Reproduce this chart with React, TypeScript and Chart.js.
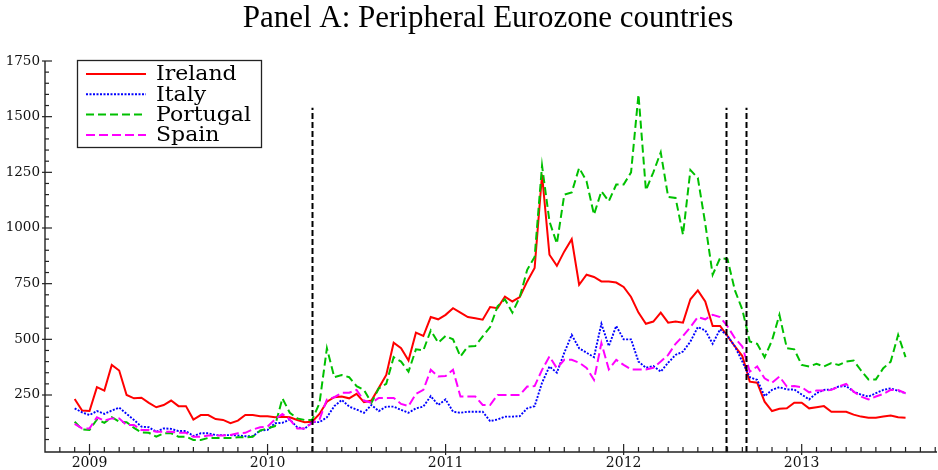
import React, { useEffect, useRef } from "react";
import { Chart, registerables } from "chart.js";

Chart.register(...registerables);

// Sampling grid: semi-monthly observations starting 1 Dec 2008
const START_YEAR = 2008 + 11 / 12;
const STEP = 1 / 24;

const IRELAND = [
  232, 180, 178, 285, 270, 385, 360, 250, 235, 238,
  215, 195, 205, 225, 200, 200, 140, 160, 160, 142,
  138, 123, 135, 160, 160, 155, 155, 150, 152, 150,
  138, 128, 130, 165, 220, 240, 243, 235, 255, 218,
  225, 282, 340, 485, 460, 405, 530, 515, 600, 590,
  610, 640, 620, 600, 595, 588, 645, 640, 692, 670,
  690, 760, 820, 1240, 880, 830, 895, 950, 745, 790,
  780, 760, 760, 755, 735, 690, 620, 570, 580, 620,
  575, 580, 575, 680, 720, 670, 560, 560, 515, 468,
  425, 310, 305, 220, 178, 188, 190, 215, 215, 190,
  195, 200, 175, 175, 175, 162, 153, 148, 148, 153,
  158, 150, 148,
];

const ITALY = [
  190, 172, 160, 178, 165, 180, 193, 165, 138, 108,
  105, 85, 100, 98, 88, 88, 66, 78, 78, 70,
  70, 70, 68, 65, 65, 90, 93, 123, 125, 140,
  105, 98, 128, 128, 150, 200, 228, 198, 185, 170,
  205, 178, 198, 198, 183, 170, 190, 198, 245, 205,
  230, 175, 170, 175, 175, 175, 133, 140, 153, 153,
  155, 190, 200, 305, 378, 350, 440, 520, 460, 440,
  420, 570, 470, 560, 500, 500, 400, 372, 380, 355,
  395, 430, 445, 490, 555, 540, 480, 545, 515, 468,
  400, 330, 318, 245, 273, 285, 275, 275, 252, 230,
  258, 273, 275, 288, 290, 265, 252, 243, 258, 273,
  280, 268, 258,
];

const PORTUGAL = [
  130, 95, 93, 140, 125, 150, 130, 128, 102, 82,
  80, 63, 78, 78, 63, 63, 48, 48, 57, 57,
  57, 57, 60, 60, 62, 90, 100, 110, 235, 170,
  145, 138, 138, 213, 460, 330, 340, 330, 290, 273,
  215, 280, 300, 420, 400, 355, 455, 450, 540, 485,
  515, 500, 423, 468, 470, 513, 555, 648, 680, 620,
  690, 812, 870, 1280, 1030, 930, 1150, 1160, 1270, 1210,
  1060, 1165, 1120, 1195, 1195, 1250, 1600, 1170, 1250, 1340,
  1140, 1135, 970, 1260, 1225, 1020, 790, 865, 860, 720,
  633, 490, 480, 420, 495, 610, 460, 455, 385, 378,
  390, 378, 393, 385, 400, 405, 360, 320, 320, 370,
  400, 520, 420,
];

const SPAIN = [
  120, 100, 100, 150, 135, 145, 145, 115, 115, 93,
  93, 85, 85, 85, 80, 80, 62, 62, 68, 68,
  68, 70, 78, 80, 95, 105, 108, 140, 165, 140,
  100, 100, 125, 140, 230, 240, 260, 260, 273, 225,
  215, 237, 237, 237, 210, 200, 255, 273, 363, 333,
  335, 363, 243, 243, 243, 205, 205, 250, 250, 250,
  250, 288, 290, 363, 423, 370, 408, 408, 395, 372,
  318, 483, 365, 408, 385, 365, 365, 365, 372, 400,
  430, 480, 515, 555, 600, 590, 610, 600, 558, 505,
  468, 355, 378, 325, 305, 333, 288, 290, 285, 262,
  270, 270, 273, 288, 300, 265, 243, 230, 243, 255,
  273, 272, 258,
];

const SERIES_NAMES = ["Ireland", "Italy", "Portugal", "Spain"];
const Y_TICK_LABELS = [250, 500, 750, 1000, 1250, 1500, 1750];
const X_TICK_LABELS = [2009, 2010, 2011, 2012, 2013];
const EVENT_DATES = [2010.247, 2012.573, 2012.685];
const EVENT_TOP = 1540;
const TITLE = "Panel A: Peripheral Eurozone countries";

const X_MIN = 2008.75;
const X_MAX = 2013.76;
const Y_MIN = -6;
const Y_MAX = 1750;

const COLORS = ["#ff0000", "#0000ff", "#00c000", "#ff00ff"];
const DASHES: number[][] = [[], [2, 1.5], [8, 4], [9, 4]];
const WIDTHS = [2, 1.9, 2, 2];

const SERIF = "'DejaVu Serif', serif";

const decorPlugin = {
  id: "decor",
  afterDraw(chart: any) {
    const { ctx, chartArea: a, scales } = chart;
    const x = scales.x;
    const y = scales.y;
    ctx.save();
    // title centred over the plot area
    ctx.fillStyle = "#000";
    ctx.font = "31px 'Liberation Serif', serif";
    ctx.textAlign = "center";
    ctx.textBaseline = "alphabetic";
    ctx.fillText(TITLE, (a.left + a.right) / 2 - 3, 27);
    // event lines
    ctx.strokeStyle = "#000";
    ctx.lineWidth = 2;
    ctx.setLineDash([6, 3]);
    for (const d of EVENT_DATES) {
      const px = Math.round(x.getPixelForValue(d)) + 0.5;
      ctx.beginPath();
      ctx.moveTo(px, a.bottom);
      ctx.lineTo(px, y.getPixelForValue(EVENT_TOP));
      ctx.stroke();
    }
    ctx.setLineDash([]);
    // axes
    ctx.strokeStyle = "#222";
    ctx.lineWidth = 1.4;
    const top = y.getPixelForValue(Y_MAX);
    ctx.beginPath();
    ctx.moveTo(a.left, top);
    ctx.lineTo(a.left, a.bottom);
    ctx.lineTo(a.right, a.bottom);
    ctx.stroke();
    ctx.lineWidth = 1.2;
    // y ticks: minor every 50, major every 250
    for (let v = 50; v <= Y_MAX; v += 50) {
      const py = y.getPixelForValue(v);
      const major = v % 250 === 0;
      ctx.beginPath();
      ctx.moveTo(a.left - (major ? 3 : 0), py);
      ctx.lineTo(a.left + (major ? 7 : 4), py);
      ctx.stroke();
    }
    // x ticks: monthly minor, yearly major
    for (let m = Math.ceil(X_MIN * 12) + 1; m / 12 < X_MAX; m++) {
      const px = x.getPixelForValue(m / 12);
      const major = m % 12 === 0;
      ctx.beginPath();
      ctx.moveTo(px, a.bottom + (major ? 3 : 0));
      ctx.lineTo(px, a.bottom - (major ? 8 : 5));
      ctx.stroke();
    }
    // legend
    const lx = 77, ly = 60, lw = 184, lh = 87;
    ctx.fillStyle = "#fff";
    ctx.fillRect(lx, ly, lw, lh);
    ctx.strokeStyle = "#222";
    ctx.lineWidth = 1.3;
    ctx.strokeRect(lx + 0.5, ly + 0.5, lw, lh);
    ctx.font = "20px " + SERIF;
    ctx.textBaseline = "middle";
    ctx.textAlign = "left";
    chart.data.datasets.forEach((ds: any, i: number) => {
      const cy = ly + 14 + i * 20.3;
      ctx.strokeStyle = ds.borderColor;
      ctx.lineWidth = ds.borderWidth;
      ctx.setLineDash(ds.borderDash || []);
      ctx.beginPath();
      ctx.moveTo(lx + 9, cy);
      ctx.lineTo(lx + 69, cy);
      ctx.stroke();
      ctx.setLineDash([]);
      ctx.fillStyle = "#000";
      ctx.save();
      ctx.translate(lx + 79, cy + 1);
      ctx.scale(1.1, 1);
      ctx.fillText(ds.label, 0, 0);
      ctx.restore();
    });
    ctx.restore();
  },
};

export default function App() {
  const ref = useRef<HTMLCanvasElement | null>(null);
  useEffect(() => {
    if (!ref.current) return;
    const all = [IRELAND, ITALY, PORTUGAL, SPAIN];
    const datasets = all.map((vals, i) => ({
      label: SERIES_NAMES[i],
      data: vals.map((v, k) => ({ x: START_YEAR + k * STEP, y: v })),
      borderColor: COLORS[i],
      backgroundColor: COLORS[i],
      borderWidth: WIDTHS[i],
      borderDash: DASHES[i],
      pointRadius: 0,
      tension: 0,
      fill: false,
      order: 4 - i,
    }));
    const chart = new Chart(ref.current, {
      type: "line",
      data: { datasets },
      options: {
        animation: false,
        responsive: false,
        parsing: false as any,
        layout: { padding: { left: 0, right: 1, top: 61, bottom: 0 } },
        plugins: {
          legend: { display: false },
          tooltip: { enabled: false },
          title: { display: false },
        },
        scales: {
          x: {
            type: "linear",
            min: X_MIN,
            max: X_MAX,
            grid: { display: false, drawTicks: false },
            border: { display: false },
            afterBuildTicks: (s: any) => {
              s.ticks = X_TICK_LABELS.map((v) => ({ value: v }));
            },
            afterFit: (s: any) => {
              s.height = 18;
            },
            ticks: {
              padding: 3,
              color: "#111",
              maxRotation: 0,
              autoSkip: false,
              font: { family: SERIF, size: 14 },
              callback: (v: any) => String(v),
            },
          },
          y: {
            type: "linear",
            min: Y_MIN,
            max: Y_MAX,
            grid: { display: false, drawTicks: false },
            border: { display: false },
            afterBuildTicks: (s: any) => {
              s.ticks = Y_TICK_LABELS.map((v) => ({ value: v }));
            },
            afterFit: (s: any) => {
              s.width = 45;
            },
            ticks: {
              padding: 5,
              color: "#111",
              font: { family: SERIF, size: 13.5 },
              callback: (v: any) => String(v),
            },
          },
        },
      },
      plugins: [decorPlugin],
    });
    return () => chart.destroy();
  }, []);
  return (
    <div style={{ position: "fixed", left: 0, top: 0, width: 938, height: 470, background: "#fff" }}>
      <canvas ref={ref} width={938} height={470} style={{ display: "block" }} />
    </div>
  );
}
